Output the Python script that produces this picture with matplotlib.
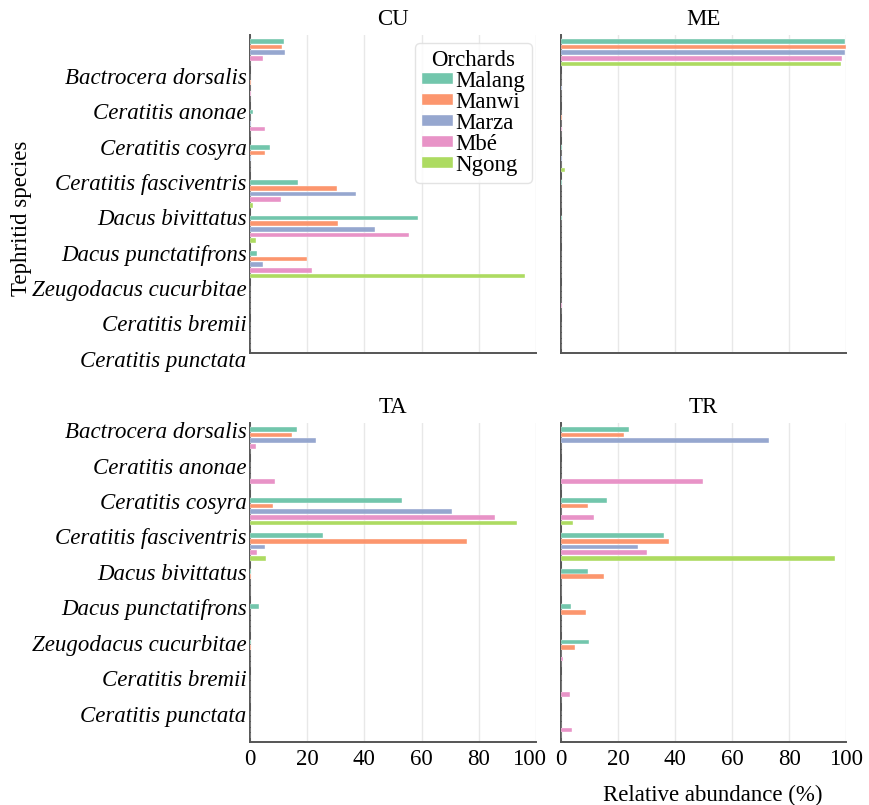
import matplotlib
matplotlib.use("Agg")
import matplotlib.pyplot as plt
import matplotlib.transforms as mtransforms
import numpy as np

plt.rcParams["font.family"] = ["Liberation Serif", "DejaVu Serif"]

# Species in plotting order (top to bottom)
species = [
    "Bactrocera dorsalis",
    "Ceratitis anonae",
    "Ceratitis cosyra",
    "Ceratitis fasciventris",
    "Dacus bivittatus",
    "Dacus punctatifrons",
    "Zeugodacus cucurbitae",
    "Ceratitis bremii",
    "Ceratitis punctata",
]
orchards = ["Malang", "Manwi", "Marza", "Mbé", "Ngong"]
orchard_colors = ["#66C2A5", "#FC8D62", "#8DA0CB", "#E78AC3", "#A6D854"]
lures = ["CU", "ME", "TA", "TR"]

# Relative abundance (%) per lure: one row per orchard, one column per species
cu_abundance = [
    [11.9, 0.0, 0.9, 7.0, 16.9, 58.7, 2.3, 0.0, 0.0],
    [11.2, 0.3, 0.0, 5.1, 30.5, 30.9, 20.1, 0.0, 0.0],
    [12.1, 0.0, 0.5, 0.5, 37.1, 43.7, 4.7, 0.0, 0.0],
    [4.6, 0.3, 5.1, 0.0, 10.8, 55.7, 21.7, 0.0, 0.0],
    [0.0, 0.0, 0.0, 0.0, 1.0, 2.0, 96.0, 0.0, 0.0],
]
me_abundance = [
    [99.4, 0.0, 0.0, 0.2, 0.2, 0.2, 0.0, 0.0, 0.0],
    [99.7, 0.0, 0.3, 0.0, 0.0, 0.0, 0.0, 0.0, 0.0],
    [99.6, 0.2, 0.0, 0.2, 0.0, 0.0, 0.0, 0.0, 0.0],
    [98.5, 0.0, 0.3, 0.0, 0.0, 0.0, 0.0, 0.3, 0.0],
    [98.2, 0.0, 0.0, 1.4, 0.0, 0.0, 0.0, 0.0, 0.0],
]
ta_abundance = [
    [16.5, 0.0, 53.2, 25.4, 0.3, 3.1, 0.3, 0.0, 0.0],
    [14.6, 0.0, 8.2, 75.9, 0.3, 0.0, 0.3, 0.0, 0.0],
    [23.2, 0.0, 70.7, 5.1, 0.0, 0.0, 0.0, 0.0, 0.0],
    [2.1, 8.7, 85.7, 2.6, 0.0, 0.0, 0.0, 0.0, 0.0],
    [0.0, 0.0, 93.5, 5.7, 0.0, 0.0, 0.0, 0.0, 0.0],
]
tr_abundance = [
    [23.7, 0.0, 16.0, 36.1, 9.6, 3.4, 9.9, 0.0, 0.0],
    [22.2, 0.0, 9.6, 38.0, 15.2, 8.6, 5.0, 0.0, 0.0],
    [72.9, 0.0, 0.0, 26.9, 0.0, 0.0, 0.0, 0.0, 0.0],
    [0.0, 49.8, 11.4, 30.1, 0.0, 0.0, 0.6, 3.3, 4.0],
    [0.0, 0.0, 4.3, 95.9, 0.0, 0.0, 0.0, 0.0, 0.0],
]
x_ticks = [0, 20, 40, 60, 80, 100]

data = {"CU": cu_abundance, "ME": me_abundance, "TA": ta_abundance, "TR": tr_abundance}

W, H = 870, 805
fig = plt.figure(figsize=(W / 100, H / 100), dpi=100)
fig.patch.set_facecolor("white")


def axes_px(x0, y0, x1, y1):
    return fig.add_axes([x0 / W, 1 - y1 / H, (x1 - x0) / W, (y1 - y0) / H])


panel_boxes = {
    "CU": (250, 35, 536, 353),
    "ME": (561, 35, 846.5, 353),
    "TA": (250, 423, 536, 742),
    "TR": (561, 423, 846.5, 742),
}
FS = 16.5
spine_color = "#555555"
dodge = 0.16
bar_h = 0.135

axes = {}
for lure in lures:
    ax = axes_px(*panel_boxes[lure])
    axes[lure] = ax
    ypos = np.arange(len(species))
    for k, (orch, col) in enumerate(zip(orchards, orchard_colors)):
        ax.barh(ypos + (k - 2) * dodge, data[lure][k], height=bar_h,
                color=col, alpha=0.92, edgecolor="white", linewidth=0.3,
                label=orch, zorder=3)
    ax.set_xlim(0, 100)
    ax.set_ylim(8.5, -0.5)
    ax.set_xticks(x_ticks)
    ax.set_yticks([])
    ax.grid(axis="x", color="#e8e8e8", linewidth=1.0, zorder=0)
    ax.set_axisbelow(True)
    for s in ("top", "right"):
        ax.spines[s].set_visible(False)
    for s in ("left", "bottom"):
        ax.spines[s].set_color(spine_color)
        ax.spines[s].set_linewidth(1.4)
    ax.tick_params(axis="x", length=0, labelsize=FS, pad=5, colors="black")
    ax.set_title(lure, fontsize=FS, pad=7)

    top_row = lure in ("CU", "ME")
    if top_row:
        ax.tick_params(axis="x", labelbottom=False)
    if lure in ("CU", "TA"):
        shift = 0.73 if top_row else -0.23
        trans = mtransforms.blended_transform_factory(ax.transAxes, ax.transData)
        for i, name in enumerate(species):
            ax.text(-0.012, i + shift, name, transform=trans, ha="right",
                    va="center", style="italic", fontsize=FS, clip_on=False)

# nudge the "100" of the lower-left panel away from the neighbouring "0"
lbl = axes["TA"].get_xticklabels()[-1]
lbl.set_transform(lbl.get_transform() +
                  mtransforms.ScaledTranslation(-7 / 100, 0, fig.dpi_scale_trans))

handles, labels = axes["CU"].get_legend_handles_labels()
leg = fig.legend(handles, labels, title="Orchards", loc="upper left",
                 bbox_to_anchor=(415 / W, 1 - 43 / H), bbox_transform=fig.transFigure,
                 fontsize=FS, title_fontsize=FS, handlelength=1.35,
                 handleheight=0.35, handletextpad=0.1, labelspacing=0.0,
                 borderpad=0.3, borderaxespad=0, frameon=True, fancybox=True)
leg.get_frame().set_edgecolor("#dddddd")
leg.get_frame().set_linewidth(1.0)

fig.text(22 / W, 1 - 218 / H, "Tephritid species", rotation=90,
         ha="center", va="center", fontsize=FS)
fig.text(713 / W, 1 - 795 / H, "Relative abundance (%)",
         ha="center", va="center", fontsize=FS)

fig.savefig("out.png", dpi=100)
